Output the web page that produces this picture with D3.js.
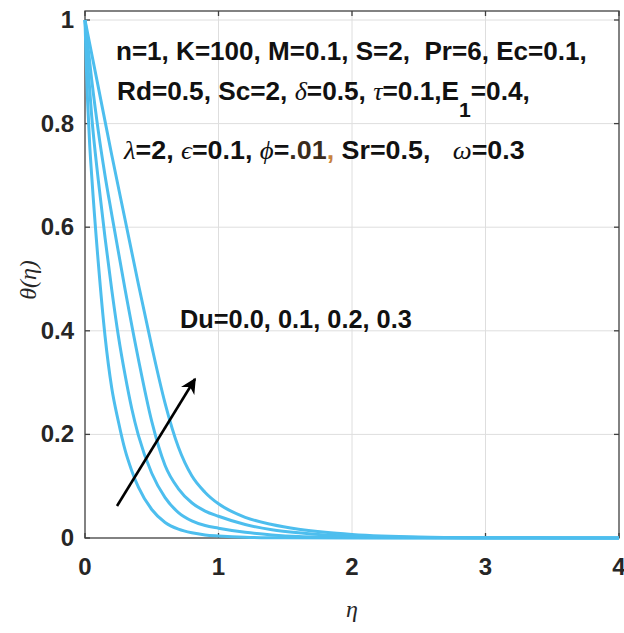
<!DOCTYPE html>
<html><head><meta charset="utf-8">
<script src="https://cdn.jsdelivr.net/npm/d3@7"></script>
<style>body{margin:0;background:#fff}svg{display:block}</style>
</head><body>
<script>
// ---- data ----
const du0Eta = [0,0.01,0.02,0.035,0.05,0.1,0.15,0.2,0.25,0.3,0.35,0.4,0.5,0.6,0.7,0.8,0.9,1.0,1.2,1.5,2.0,4.0];
const du0Th  = [1,0.91,0.84,0.76,0.70,0.53,0.39,0.29,0.225,0.17,0.13,0.098,0.055,0.030,0.017,0.010,0.006,0.004,0.0015,0.0004,0.0001,0];
const du1Eta = [0,0.025,0.05,0.1,0.15,0.2,0.25,0.3,0.35,0.4,0.5,0.6,0.7,0.8,0.9,1.0,1.2,1.4,1.6,2.0,2.5,3.0,4.0];
const du1Th  = [1,0.90,0.815,0.69,0.58,0.48,0.39,0.315,0.25,0.198,0.125,0.078,0.049,0.033,0.024,0.019,0.011,0.006,0.003,0.001,0.0003,0.0001,0];
const du2Eta = [0,0.05,0.1,0.15,0.2,0.3,0.4,0.5,0.6,0.7,0.8,0.9,1.0,1.2,1.4,1.6,1.8,2.0,2.5,3.0,4.0];
const du2Th  = [1,0.885,0.785,0.70,0.625,0.48,0.345,0.225,0.14,0.095,0.068,0.052,0.042,0.026,0.016,0.010,0.006,0.004,0.001,0.0003,0];
const du3Eta = [0,0.1,0.2,0.3,0.4,0.5,0.6,0.7,0.8,0.9,1.0,1.2,1.4,1.6,1.8,2.0,2.5,3.0,3.5,4.0];
const du3Th  = [1,0.87,0.74,0.615,0.49,0.37,0.26,0.175,0.12,0.088,0.066,0.040,0.026,0.017,0.011,0.007,0.002,0.0006,0.0002,0];
const seriesEta = [du0Eta, du1Eta, du2Eta, du3Eta];
const seriesTh  = [du0Th, du1Th, du2Th, du3Th];
const xTicks = [0,1,2,3,4];
const yTicks = [0,0.2,0.4,0.6,0.8,1];
const yTickLabels = ["0","0.2","0.4","0.6","0.8","1"];

const W = 624, H = 633;
const svg = d3.select("body").append("svg").attr("width", W).attr("height", H);
const x = d3.scaleLinear().domain([0,4]).range([85,619]);
const y = d3.scaleLinear().domain([0,1]).range([538,20]);
const boxTop = 11;

// grid
const g = svg.append("g");
g.selectAll(".vg").data(xTicks.slice(1,-1)).join("line")
  .attr("x1", d=>x(d)).attr("x2", d=>x(d)).attr("y1", boxTop).attr("y2", 538)
  .attr("stroke", "#dedede").attr("stroke-width", 1);
g.selectAll(".hg").data(yTicks.slice(1)).join("line")
  .attr("x1", 85).attr("x2", 619).attr("y1", d=>y(d)).attr("y2", d=>y(d))
  .attr("stroke", "#dedede").attr("stroke-width", 1);

// box + ticks
const ax = svg.append("g").attr("stroke","#404040").attr("stroke-width",1.3).attr("fill","none");
ax.append("rect").attr("x",85).attr("y",boxTop).attr("width",534).attr("height",538-boxTop);
xTicks.forEach(t=>{
  ax.append("line").attr("x1",x(t)).attr("x2",x(t)).attr("y1",538).attr("y2",533);
  ax.append("line").attr("x1",x(t)).attr("x2",x(t)).attr("y1",boxTop).attr("y2",boxTop+5);
});
yTicks.forEach(t=>{
  ax.append("line").attr("x1",85).attr("x2",90).attr("y1",y(t)).attr("y2",y(t));
  ax.append("line").attr("x1",619).attr("x2",614).attr("y1",y(t)).attr("y2",y(t));
});

// curves
svg.append("clipPath").attr("id","c").append("rect")
  .attr("x",83).attr("y",boxTop).attr("width",537).attr("height",538-boxTop+2);
const line = d3.line().x(d=>x(d[0])).y(d=>y(d[1])).curve(d3.curveMonotoneX);
seriesEta.forEach((e,i)=>{
  const pts = e.map((v,j)=>[v, seriesTh[i][j]]);
  svg.append("path").attr("d", line(pts)).attr("fill","none")
    .attr("stroke","#4dbeee").attr("stroke-width",3).attr("clip-path","url(#c)");
});

const font = "'Liberation Sans', Arial, sans-serif";
// tick labels
svg.selectAll(".xt").data(xTicks).join("text")
  .attr("x", d=>x(d)).attr("y", 575).attr("text-anchor","middle")
  .attr("font-family", font).attr("font-weight","bold").attr("font-size",24)
  .attr("fill","#262626").text(d=>d);
svg.selectAll(".yt").data(yTicks).join("text")
  .attr("x", 74).attr("y", d=>y(d)+8).attr("text-anchor","end")
  .attr("font-family", font).attr("font-weight","bold").attr("font-size",24)
  .attr("fill","#262626").text((d,i)=>yTickLabels[i]);

// axis titles
svg.append("text").attr("x",352).attr("y",617).attr("text-anchor","middle")
  .attr("font-family","'Liberation Serif','DejaVu Serif',serif").attr("font-style","italic")
  .attr("font-size",24).attr("fill","#262626").text("η");
svg.append("text").attr("transform","translate(36,280) rotate(-90)").attr("text-anchor","middle")
  .attr("font-family","'Liberation Serif','DejaVu Serif',serif").attr("font-style","italic")
  .attr("font-size",24).attr("fill","#262626").text("θ(η)");

// annotations
function fitText(x0, yb, targetW, parts, size){
  const t = svg.append("text").attr("font-family",font).attr("font-weight","bold")
    .attr("font-size",size).attr("fill","#111").style("white-space","pre");
  parts.forEach(p=>{
    const ts = t.append("tspan").text(p.t);
    if(p.g){ ts.attr("font-family","'Liberation Serif','DejaVu Serif',serif").attr("font-style","italic").attr("font-weight","normal"); }
    if(p.dy){ ts.attr("dy",p.dy); }
    if(p.fs){ ts.attr("font-size",p.fs); }
    if(p.c){ ts.attr("fill",p.c); }
  });
  const w = t.node().getComputedTextLength();
  t.attr("transform",`translate(${x0},${yb}) scale(${targetW/w},1)`);
}
fitText(116, 60, 471, [{t:"n=1, K=100, M=0.1, S=2,  Pr=6, Ec=0.1,"}], 26);
fitText(117, 100, 413, [{t:"Rd=0.5, Sc=2, "},{t:"δ",g:1},{t:"=0.5, "},{t:"τ",g:1},{t:"=0.1,E"},{t:"1",dy:17,fs:21},{t:"=0.4,",dy:-17}], 26);
fitText(124, 159, 401, [{t:"λ",g:1},{t:"=2, "},{t:"ϵ",g:1},{t:"=0.1, "},{t:"ϕ",g:1},{t:"="},{t:".01",c:"#3a2c1c"},{t:",",c:"#c8823c"},{t:" Sr=0.5,   "},{t:"ω",g:1},{t:"=0.3"}], 26);
fitText(180, 328, 232, [{t:"Du=0.0, 0.1, 0.2, 0.3"}], 26);

// arrow
svg.append("defs").append("marker").attr("id","ah").attr("viewBox","0 0 10 10")
  .attr("refX",9).attr("refY",5).attr("markerWidth",6).attr("markerHeight",6)
  .attr("markerUnits","strokeWidth").attr("orient","auto")
  .append("path").attr("d","M0,0 L10,5 L0,10 L3,5 Z").attr("fill","#000");
svg.append("line").attr("x1",117).attr("y1",506).attr("x2",195).attr("y2",379)
  .attr("stroke","#000").attr("stroke-width",2.6).attr("marker-end","url(#ah)");
</script>
</body></html>
